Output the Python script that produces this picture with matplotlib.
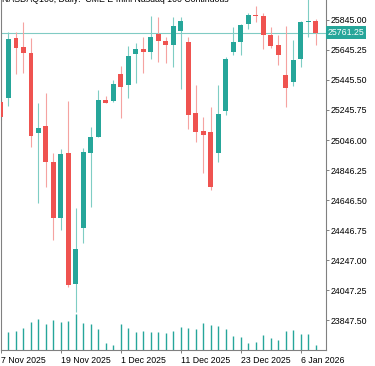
import matplotlib
matplotlib.use("Agg")
import matplotlib.pyplot as plt
import numpy as np

plt.rcParams['font.family'] = ['Liberation Sans', 'DejaVu Sans']

dates = ["2025-11-07", "2025-11-10", "2025-11-11", "2025-11-12", "2025-11-13", "2025-11-14",
         "2025-11-17", "2025-11-18", "2025-11-19", "2025-11-20", "2025-11-21", "2025-11-24",
         "2025-11-25", "2025-11-26", "2025-11-27", "2025-11-28", "2025-12-01", "2025-12-02",
         "2025-12-03", "2025-12-04", "2025-12-05", "2025-12-08", "2025-12-09", "2025-12-10",
         "2025-12-11", "2025-12-12", "2025-12-15", "2025-12-16", "2025-12-17", "2025-12-18",
         "2025-12-19", "2025-12-22", "2025-12-23", "2025-12-24", "2025-12-26", "2025-12-29",
         "2025-12-30", "2025-12-31", "2026-01-02", "2026-01-05", "2026-01-06", "2026-01-07",
         "2026-01-08"]

opens = [25301.0, 25323.7, 25727.2, 25667.2, 25623.3, 25094.6, 25139.3, 24901.6, 24524.7, 24961.5,
         24085.3, 24462.1, 24961.5, 25068.0, 25312.4, 25305.7, 25483.5, 25412.2, 25616.6, 25651.9,
         25629.9, 25751.8, 25707.2, 25678.6, 25771.8, 25696.5, 25223.8, 25106.0, 25097.3, 24957.5,
         25239.1, 25633.9, 25700.5, 25816.4, 25878.3, 25871.6, 25745.1, 25678.6, 25478.8, 25434.2,
         25582.0, 25829.7, 25838.3]
highs = [25320.0, 25763.0, 25763.0, 25829.7, 25723.2, 25294.4, 25361.0, 24957.5, 24984.2, 25307.7,
         24595.3, 24990.8, 25134.6, 25379.0, 25339.0, 25442.2, 25540.7, 25671.9, 25689.9, 25733.8,
         25871.6, 25867.0, 25729.8, 25867.0, 25867.0, 25733.8, 25412.2, 25201.2, 25267.8, 25412.2,
         25600.7, 25800.4, 25818.4, 25889.6, 25938.2, 25891.6, 25796.4, 25745.1, 25805.1, 25711.8,
         25838.3, 25998.0, 25849.7]
lows = [25180.0, 25272.4, 25485.5, 25490.1, 25001.4, 24628.6, 24735.0, 24380.0, 24446.8, 24069.0,
        23902.9, 24362.3, 24602.0, 25064.0, 25290.4, 25295.7, 25194.5, 25327.7, 25423.5, 25490.1,
        25583.3, 25567.4, 25560.7, 25530.1, 25385.6, 25117.3, 25034.7, 24824.3, 24713.1, 24901.6,
        25212.5, 25612.0, 25612.0, 25783.1, 25833.7, 25649.9, 25658.6, 25545.4, 25267.8, 25405.6,
        25532.1, 25733.8, 25678.6]
closes = [25197.0, 25716.5, 25660.6, 25623.3, 25074.6, 25127.9, 24901.6, 24524.7, 24952.8, 24080.6,
          24320.3, 24964.1, 25064.0, 25312.4, 25294.4, 25418.9, 25401.0, 25605.3, 25649.9, 25629.9,
          25733.8, 25705.2, 25678.6, 25805.1, 25840.3, 25212.5, 25101.3, 25079.4, 24731.1, 25219.2,
          25583.3, 25700.5, 25811.7, 25878.3, 25869.6, 25745.1, 25673.9, 25612.0, 25394.2, 25578.7,
          25831.7, 25838.3, 25761.25]
volumes = [np.nan, 275000, 285000, 325000, 420000, 465000, 390000, 445000, 420000, 435000,
           535000, 405000, 390000, 315000, 105000, 75000, 390000, 325000, 275000, 285000,
           270000, 270000, 255000, 285000, 340000, 325000, 315000, 405000, 380000, 360000,
           310000, 210000, 190000, 100000, 120000, 230000, 180000, 155000, 285000, 300000,
           245000, 245000, 75000]

ytick_vals = [23847.50, 24047.25, 24247.00, 24446.75, 24646.50, 24846.25,
              25046.00, 25245.75, 25445.50, 25645.25, 25845.00]
xtick_idx = [0, 8, 16, 24, 32, 40]
xtick_labels = ["7 Nov 2025", "19 Nov 2025", "1 Dec 2025", "11 Dec 2025", "23 Dec 2025", "6 Jan 2026"]
last_price = 25761.25
title = "NASDAQ100, Daily:  CME E-mini Nasdaq 100 Continuous"

UP = "#26a69a"
DOWN = "#ef5350"
UP_WICK = "#7fcdc4"
DOWN_WICK = "#f5a3a1"

W, H = 375, 366
fig = plt.figure(figsize=(W / 100, H / 100), dpi=100)
ax = fig.add_axes([1 / W, 16 / H, 325 / W, 350 / H])
ax.set_xlim(0.027, 43.36)
ax.set_ylim(23648, 25978)

# volumes on twin axis
ax2 = ax.twinx()
ax2.set_ylim(0, 5250000)
x = np.arange(len(dates))
vol = np.array(volumes, dtype=float)
ax2.vlines(x, 0, vol, color=UP, linewidth=1.0, zorder=1)
ax2.set_yticks([])
for s in ax2.spines.values():
    s.set_visible(False)
ax2.set_zorder(0)
ax.set_zorder(1)
ax.patch.set_visible(False)

o = np.array(opens); c = np.array(closes); h = np.array(highs); l = np.array(lows)
up = c >= o
wick_cols = [UP_WICK if u else DOWN_WICK for u in up]
body_cols = [UP if u else DOWN for u in up]
ax.vlines(x, l, h, colors=wick_cols, linewidth=0.8, zorder=2)
bottoms = np.minimum(o, c)
heights = np.maximum(np.abs(c - o), 7.0)
ax.bar(x, heights, bottom=bottoms, width=0.66, color=body_cols, linewidth=0, zorder=3)

# last price line
ax.axhline(last_price, color="#80cbc4", linewidth=0.8, zorder=1.5)
ax.text(1.005, last_price, f"{last_price:.2f}", transform=ax.get_yaxis_transform(),
        ha="left", va="center", color="white", fontsize=6.3, zorder=5, clip_on=False,
        bbox=dict(boxstyle="square,pad=0.18", facecolor=UP, edgecolor="none"))

# y axis on right
ax.yaxis.tick_right()
ax.set_yticks(ytick_vals)
ax.set_yticklabels([f"{v:.2f}" for v in ytick_vals])
ax.tick_params(axis="y", direction="out", length=2.5, width=0.7, pad=1,
               labelsize=6.3, colors="#808080", labelcolor="black")

ax.set_xticks(xtick_idx)
ax.set_xticklabels(xtick_labels, ha="left")
ax.tick_params(axis="x", direction="out", length=2.5, width=0.7, pad=1.5,
               labelsize=6.3, colors="#808080", labelcolor="black")
for lab in ax.get_xticklabels():
    lab.set_horizontalalignment("left")

ax.spines["top"].set_visible(False)
for s in ["left", "right", "bottom"]:
    ax.spines[s].set_color("#808080")
    ax.spines[s].set_linewidth(0.8)

fig.text(2 / W, 1 - 1.8 / H, title, ha="left", va="baseline", fontsize=6.3, color="black")

fig.savefig("out.png", dpi=100)
